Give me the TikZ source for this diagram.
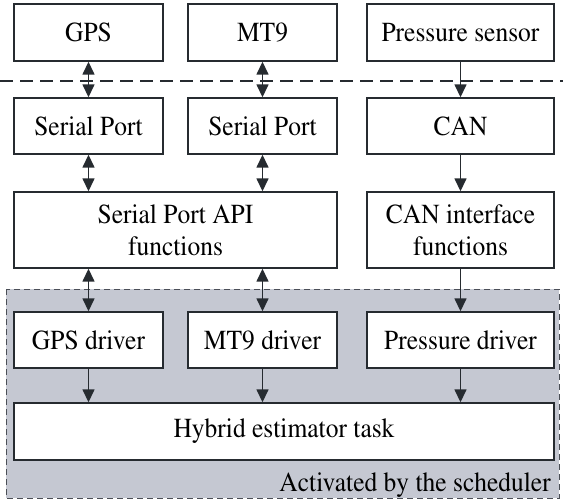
\documentclass[tikz,border=0pt]{standalone}
\usepackage[T1]{fontenc}
\usepackage{times}
\usepackage{graphicx}
\usetikzlibrary{arrows.meta}
\definecolor{boxline}{HTML}{262B30}
\definecolor{regionfill}{HTML}{C5C8D2}
\definecolor{regionline}{HTML}{4A4E56}
\newcommand{\tallt}[1]{\scalebox{1}[1.08]{#1}}
\begin{document}
\begin{tikzpicture}[x=1pt,y=1pt,
  box/.style={draw=boxline, line width=1.4pt, fill=white, inner sep=0pt, align=center,
    font=\rmfamily\fontsize{25.5}{32}\selectfont},
  conn/.style={draw=boxline, line width=1.5pt},
  uni/.style={conn, -{Triangle[length=13pt,width=12pt]}},
  bi/.style={conn, {Triangle[length=13pt,width=12pt]}-{Triangle[length=13pt,width=12pt]}},
  lbl/.style={font=\rmfamily\fontsize{25.5}{32}\selectfont, inner sep=0pt}
]
\useasboundingbox (0,0) rectangle (563,-503);
% shaded scheduler region
\draw[fill=regionfill, draw=regionline, line width=1pt, dash pattern=on 6pt off 4pt]
  (6,-289) rectangle (559,-498);
% dashed separator
\draw[draw=boxline, line width=1.4pt, dash pattern=on 13pt off 7pt] (0,-81) -- (563,-81);

% top row
\node[box, minimum width=149pt, minimum height=57pt] (gps) at (88.5,-32.5) {\tallt{GPS}};
\node[box, minimum width=149pt, minimum height=57pt] (mt9) at (262.5,-32.5) {\tallt{MT9}};
\node[box, minimum width=187pt, minimum height=57pt] (press) at (460.5,-32.5) {\tallt{Pressure sensor}};
% second row
\node[box, minimum width=149pt, minimum height=56pt] (sp1) at (88.5,-126) {\tallt{Serial Port}};
\node[box, minimum width=149pt, minimum height=56pt] (sp2) at (262.5,-126) {\tallt{Serial Port}};
\node[box, minimum width=187pt, minimum height=56pt] (can) at (460.5,-126) {\tallt{CAN}};
% third row
\node[box, minimum width=323pt, minimum height=76pt] (api) at (175.5,-230) {\tallt{Serial Port API}\\\tallt{functions}};
\node[box, minimum width=187pt, minimum height=76pt] (canif) at (460.5,-230) {\tallt{CAN interface}\\\tallt{functions}};
% drivers
\node[box, minimum width=149pt, minimum height=56pt] (gpsd) at (88.5,-340) {\tallt{GPS driver}};
\node[box, minimum width=149pt, minimum height=56pt] (mt9d) at (262.5,-340) {\tallt{MT9 driver}};
\node[box, minimum width=187pt, minimum height=56pt] (pressd) at (460.5,-340) {\tallt{Pressure driver}};
% hybrid
\node[box, minimum width=540pt, minimum height=57pt] (hyb) at (284,-431.5) {\tallt{Hybrid estimator task}};
% region label
\node[lbl, anchor=base east] (act) at (551,-491) {\tallt{Activated by the scheduler}};

% connectors
\draw[bi] (gps.south) -- (sp1.north);
\draw[bi] (mt9.south) -- (sp2.north);
\draw[uni] (press.south) -- (can.north);
\draw[bi] (sp1.south) -- (sp1.south |- api.north);
\draw[bi] (sp2.south) -- (sp2.south |- api.north);
\draw[uni] (can.south) -- (canif.north);
\draw[bi] (gpsd.north |- api.south) -- (gpsd.north);
\draw[bi] (mt9d.north |- api.south) -- (mt9d.north);
\draw[uni] (canif.south) -- (pressd.north);
\draw[uni] (gpsd.south) -- (gpsd.south |- hyb.north);
\draw[uni] (mt9d.south) -- (mt9d.south |- hyb.north);
\draw[uni] (pressd.south) -- (pressd.south |- hyb.north);
\end{tikzpicture}
\end{document}
